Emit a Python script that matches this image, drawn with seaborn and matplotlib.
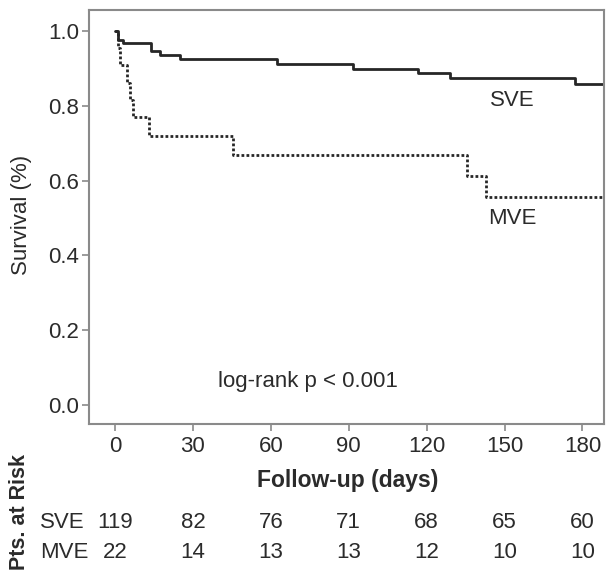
import numpy as np
import pandas as pd
import seaborn as sns
import matplotlib.pyplot as plt
import matplotlib.transforms as mtransforms

# Kaplan-Meier step points (days, survival)
sve_days = [0, 1.2, 3.1, 13.9, 17.3, 25, 62.5, 91.8, 116.8, 129, 177, 190]
sve_surv = [1.0, 0.976, 0.968, 0.946, 0.936, 0.925, 0.912, 0.898, 0.888, 0.874, 0.858, 0.858]
mve_days = [0, 1.0, 2.0, 4.6, 5.8, 7.0, 13.0, 45.5, 135.7, 143, 190]
mve_surv = [1.0, 0.955, 0.909, 0.862, 0.816, 0.769, 0.720, 0.668, 0.612, 0.556, 0.556]

groups = ["SVE", "MVE"]
risk_days = [0, 30, 60, 90, 120, 150, 180]
risk_sve = [119, 82, 76, 71, 68, 65, 60]
risk_mve = [22, 14, 13, 13, 12, 10, 10]

df = pd.concat([
    pd.DataFrame({"days": sve_days, "surv": sve_surv, "group": "SVE"}),
    pd.DataFrame({"days": mve_days, "surv": mve_surv, "group": "MVE"}),
])

sns.set_style("white")
plt.rcParams["font.family"] = ["Liberation Sans", "DejaVu Sans"]
txt = "#2b2b2b"
grey = "#8a8a8a"

W, H = 608, 571
fig = plt.figure(figsize=(W / 100, H / 100), dpi=100)
ax = fig.add_axes([89 / W, 1 - 424 / H, (604 - 89) / W, (424 - 10) / H])

sns.lineplot(data=df[df.group == "SVE"], x="days", y="surv", ax=ax,
             drawstyle="steps-post", color="#262626", lw=2.0, linestyle="-")
sns.lineplot(data=df[df.group == "MVE"], x="days", y="surv", ax=ax,
             drawstyle="steps-post", color="#262626", lw=2.0, linestyle=(0, (1, 0.8)))

ax.set_xlim(-10, 188.3)
ax.set_ylim(-0.051, 1.056)
ax.set_xticks(risk_days)
ax.set_yticks([0.0, 0.2, 0.4, 0.6, 0.8, 1.0])
ax.set_yticklabels(["0.0", "0.2", "0.4", "0.6", "0.8", "1.0"])
ax.tick_params(axis="both", length=5, width=1.2, color=grey, labelsize=16,
               labelcolor=txt, direction="out", bottom=True, left=True)
ax.tick_params(axis="x", pad=4)
ax.tick_params(axis="y", pad=2)
for s in ax.spines.values():
    s.set_color(grey)
    s.set_linewidth(1.5)
ax.set_xlabel("")
ax.set_ylabel("")

# curve labels and test result
fig.text(512 / W, 1 - 101 / H, "SVE", fontsize=16, color=txt, ha="center", va="center")
fig.text(512 / W, 1 - 218 / H, "MVE", fontsize=16, color=txt, ha="center", va="center")
fig.text(308 / W, 1 - 382 / H, "log-rank p < 0.001", fontsize=16, color=txt, ha="center", va="center")

fig.text(22 / W, 1 - 215 / H, "Survival (%)", fontsize=16, color=txt, rotation=90,
         ha="center", va="center")
fig.text(348 / W, 1 - 480 / H, "Follow-up (days)", fontsize=16.5, color=txt,
         fontweight="bold", ha="center", va="center")
fig.text(20 / W, 1 - 512 / H, "Pts. at Risk", fontsize=15.5, color=txt, rotation=90,
         fontweight="bold", ha="center", va="center")

# numbers at risk under each tick
tr = mtransforms.blended_transform_factory(ax.transData, fig.transFigure)
fig.text(40 / W, 1 - 523 / H, groups[0], fontsize=16, color=txt, ha="left", va="center")
fig.text(40 / W, 1 - 552 / H, groups[1], fontsize=16, color=txt, ha="left", va="center")
for d, a, b in zip(risk_days, risk_sve, risk_mve):
    ax.text(d, 1 - 523 / H, str(a), transform=tr, fontsize=16, color=txt, ha="center", va="center")
    ax.text(d, 1 - 552 / H, str(b), transform=tr, fontsize=16, color=txt, ha="center", va="center")

fig.savefig("out.png", dpi=100)
